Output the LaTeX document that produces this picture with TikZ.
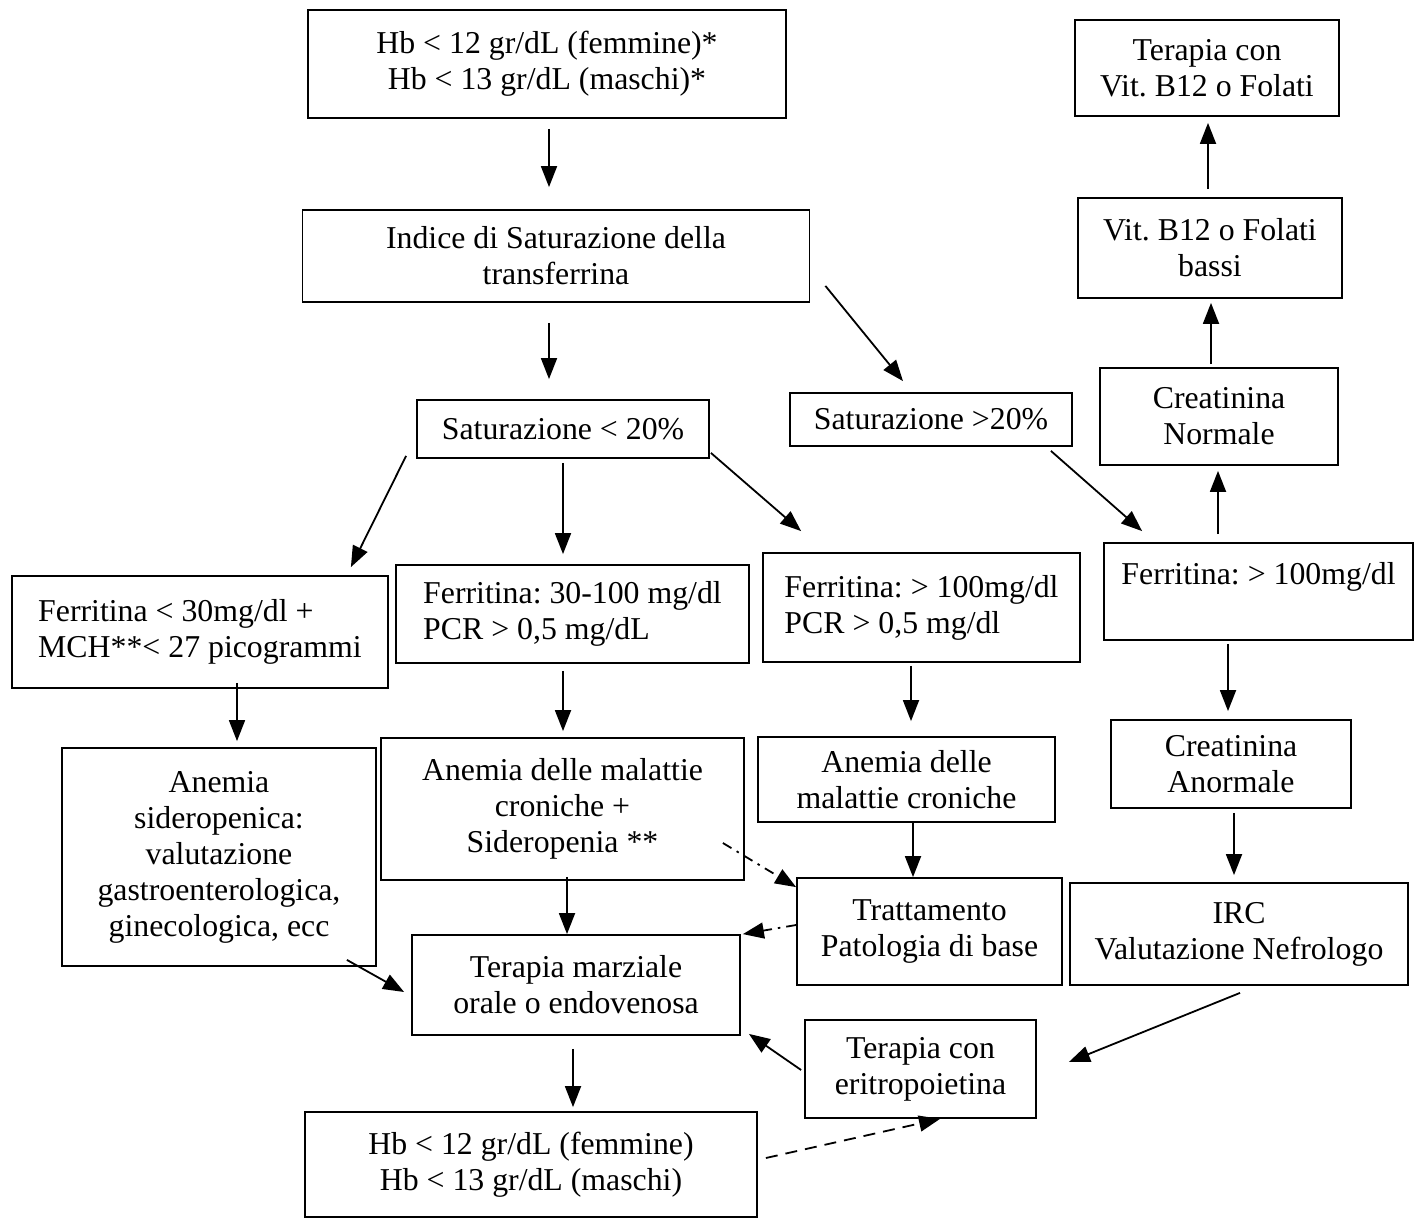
\documentclass[tikz,border=0pt]{standalone}
\usepackage{fontspec}
\setmainfont{Liberation Serif}
\usetikzlibrary{arrows.meta,calc}
\newcommand{\fsz}{\fontsize{31.8}{36}\selectfont\frenchspacing}
\begin{document}
\begin{tikzpicture}[x=1pt,y=-1pt,
  box/.style={draw, line width=1.8pt, inner sep=0pt, align=center, font=\fsz},
  lbox/.style={box, align=left},
  arr/.style={line width=1.8pt, -{Triangle[length=21pt,width=16pt]}},
  dashdot/.style={arr, dash pattern=on 10pt off 6pt on 2.5pt off 6pt},
  dashline/.style={arr, dash pattern=on 12pt off 8pt}]
\useasboundingbox (0,0) rectangle (1416,1220);

% top row / left column
\node[box, minimum width=478pt, minimum height=108pt] (hbtop) at (547,64)
  {Hb < 12 gr/dL (femmine)*\\Hb < 13 gr/dL (maschi)*};
\node[box, minimum width=507pt, minimum height=92pt] (indice) at (556,256)
  {Indice di Saturazione della\\transferrina};
\node[box, minimum width=292pt, minimum height=58pt] (satlow) at (563,429)
  {Saturazione < 20\%};
\node[box, minimum width=282pt, minimum height=53pt] (sathigh) at (931,419.5)
  {Saturazione >20\%};

\node[lbox, minimum width=376pt, minimum height=112pt] (ferr1) at (200,632)
  {Ferritina < 30mg/dl +\\MCH**< 27 picogrammi};
\node[lbox, minimum width=353pt, minimum height=98pt] (ferr2) at (572.5,614)
  {Ferritina: 30-100 mg/dl\\PCR > 0,5 mg/dL};
\node[lbox, minimum width=317pt, minimum height=109pt] (ferr3) at (921.5,607.5)
  {Ferritina: > 100mg/dl\\PCR > 0,5 mg/dl};
\node[lbox, minimum width=309pt, minimum height=97pt] (ferr4) at (1258.5,591.5)
  {Ferritina: > 100mg/dl\\\mbox{}};

% right column
\node[box, minimum width=264pt, minimum height=96pt] (tervit) at (1207,68)
  {Terapia con\\Vit. B12 o Folati};
\node[box, minimum width=264pt, minimum height=100pt] (vitbassi) at (1210,248)
  {Vit. B12 o Folati\\bassi};
\node[box, minimum width=238pt, minimum height=97pt] (creatn) at (1219,416.5)
  {Creatinina\\Normale};
\node[box, minimum width=240pt, minimum height=88pt] (creata) at (1231,764)
  {Creatinina\\Anormale};
\node[box, minimum width=338pt, minimum height=102pt] (irc) at (1239,934)
  {IRC\\Valutazione Nefrologo};

% lower part
\node[box, minimum width=314pt, minimum height=218pt] (anemsid) at (219,857)
  {Anemia\\sideropenica:\\valutazione\\gastroenterologica,\\ginecologica, ecc};
\node[box, minimum width=363pt, minimum height=142pt] (anemsidp) at (562.5,809)
  {Anemia delle malattie\\croniche +\\Sideropenia **};
\node[box, minimum width=297pt, minimum height=85pt] (anemcr) at (906.5,779.5)
  {Anemia delle\\malattie croniche};
\node[box, minimum width=265pt, minimum height=107pt] (tratt) at (929.5,931.5)
  {Trattamento\\Patologia di base};
\node[box, minimum width=328pt, minimum height=100pt] (marz) at (576,985)
  {Terapia marziale\\orale o endovenosa};
\node[box, minimum width=231pt, minimum height=98pt] (eritro) at (920.5,1069)
  {Terapia con\\eritropoietina};
\node[box, minimum width=452pt, minimum height=105pt] (hbbot) at (531,1164.5)
  {Hb < 12 gr/dL (femmine)\\Hb < 13 gr/dL (maschi)};

% connectors
\draw[arr] ($(hbtop.south)+(2,10)$) -- ($(indice.north)+(-7,-22)$);
\draw[arr] ($(indice.south)+(-7,20)$) -- ($(satlow.north)+(-14,-20)$);
\draw[arr] ($(indice.south east)+(15,-17)$) -- ($(sathigh.north)+(-28,-11)$);
\draw[arr] ($(satlow.south west)+(-10,-3)$) -- ($(ferr1.north east)+(-38,-8)$);
\draw[arr] ($(satlow.south)+(0,4)$) -- ($(ferr2.north)+(-9.5,-10)$);
\draw[arr] ($(satlow.south east)+(1,-6)$) -- ($(ferr3.north west)+(39,-21)$);
\draw[arr] ($(sathigh.south east)+(-22,4)$) -- ($(ferr4.north west)+(39,-11)$);
\draw[arr] ($(ferr4.north)+(-40.5,-8)$) -- ($(creatn.south)+(-1,5)$);
\draw[arr] ($(creatn.north)+(-8,-3)$) -- ($(vitbassi.south)+(1,4)$);
\draw[arr] ($(vitbassi.north)+(-2,-8)$) -- ($(tervit.south)+(1,6)$);
\draw[arr] ($(ferr4.south)+(-30.5,3)$) -- ($(creata.north)+(-3,-8)$);
\draw[arr] ($(creata.south)+(3,4)$) -- ($(irc.north)+(-5,-7)$);
\draw[arr] ($(irc.south)+(1,7)$) -- ($(eritro.east)+(32,-7)$);
\draw[arr] ($(ferr1.south)+(37,-6)$) -- ($(anemsid.north)+(18,-6)$);
\draw[arr] ($(ferr2.south)+(-9.5,7)$) -- ($(anemsidp.north)+(0.5,-6)$);
\draw[arr] ($(ferr3.south)+(-10.5,3)$) -- ($(anemcr.north)+(4.5,-15)$);
\draw[arr] ($(anemcr.south)+(6.5,0)$) -- ($(tratt.north)+(-16.5,0)$);
\draw[arr] ($(anemsidp.south)+(4.5,-4)$) -- ($(marz.north)+(-9,0)$);
\draw[arr] ($(anemsid.south east)+(-30,-7)$) -- ($(marz.west)+(-7,7)$);
\draw[dashdot] ($(anemsidp.east)+(-22,34)$) -- ($(tratt.north west)+(0,10)$);
\draw[dashdot] ($(tratt.west)+(0,-6.5)$) -- ($(marz.north east)+(2,0)$);
\draw[arr] ($(eritro.west)+(-3,1)$) -- ($(marz.south east)+(8,-2)$);
\draw[arr] ($(marz.south)+(-3,13)$) -- ($(hbbot.north)+(42,-4)$);
\draw[dashline] ($(hbbot.east)+(8,-6.5)$) -- ($(eritro.south)+(19.5,0)$);
\end{tikzpicture}
\end{document}
